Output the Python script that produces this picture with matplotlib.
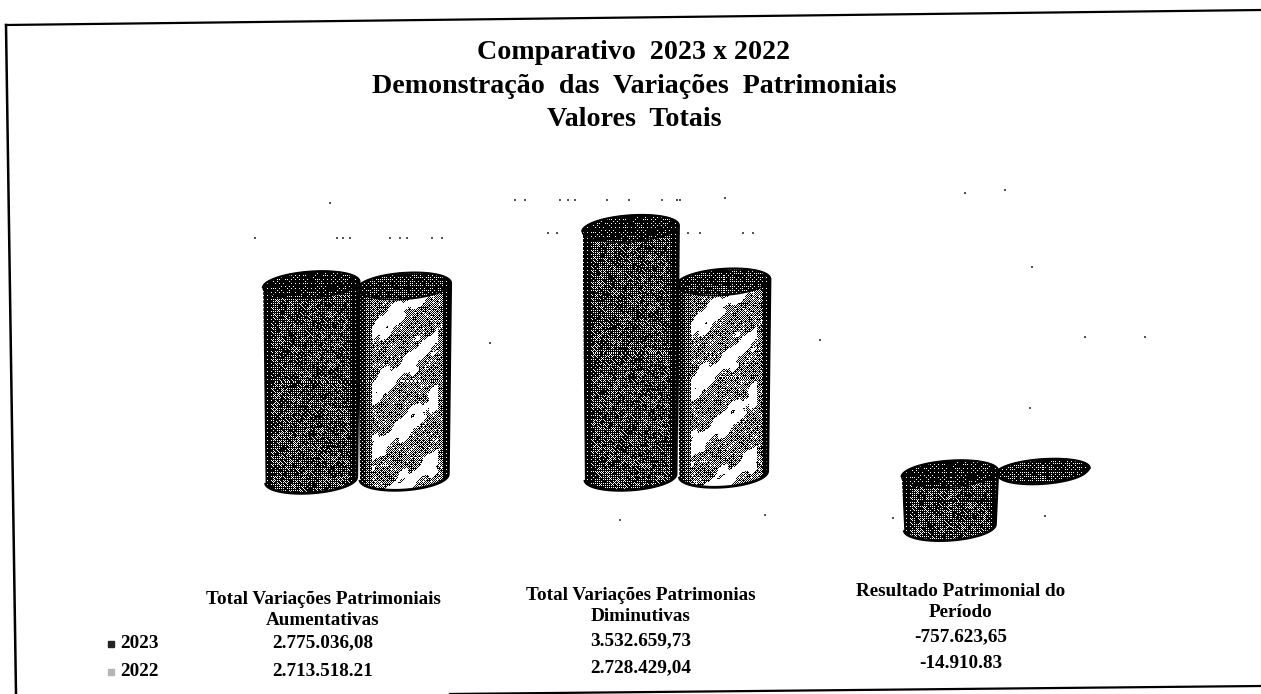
import numpy as np
import matplotlib
matplotlib.use('Agg')
import matplotlib.pyplot as plt
from matplotlib.patches import PathPatch
from matplotlib.path import Path

categories = ["Total Variações Patrimoniais\nAumentativas",
              "Total Variações Patrimonias\nDiminutivas",
              "Resultado Patrimonial do\nPeríodo"]
series_names = ["2023", "2022"]
valores_2023 = [2775036.08, 3532659.73, -757623.65]
valores_2022 = [2713518.21, 2728429.04, -14910.83]
rotulos_2023 = ["2.775.036,08", "3.532.659,73", "-757.623,65"]
rotulos_2022 = ["2.713.518.21", "2.728.429,04", "-14.910.83"]
titulo = "Comparativo  2023 x 2022\nDemonstração  das  Variações  Patrimoniais\nValores  Totais"

# restos de linhas de grade que sobraram no escaneamento
resto_x = [255, 337, 343, 350, 390, 400, 407, 432, 442, 330, 515, 525, 560, 568, 575,
           607, 629, 662, 677, 680, 725, 548, 557, 688, 700, 743, 753, 490, 620, 765,
           893, 1045, 965, 1005, 1032, 820, 1030, 1145, 1085]
resto_y = [238, 238, 238, 238, 238, 238, 238, 238, 238, 203, 200, 200, 200, 200, 200,
           200, 200, 200, 200, 200, 198, 233, 233, 233, 233, 233, 233, 343, 520, 515,
           518, 516, 193, 190, 267, 340, 408, 337, 337]

W, H = 1261, 694
SERIF = 'Liberation Serif'

fig = plt.figure(figsize=(W / 100, H / 100), dpi=100)

# fundo em pixels para moldura e textos
bg = fig.add_axes([0, 0, 1, 1])
bg.set_xlim(0, W)
bg.set_ylim(H, 0)
bg.axis('off')

# eixo dos cilindros: x = categoria, y = valor
px_por_real = 0.0703 / 1000
top_px, bot_px, zero_px = 190, 560, 476
left_px, right_px = 198, 1156
ax = fig.add_axes([left_px / W, 1 - bot_px / H, (right_px - left_px) / W, (bot_px - top_px) / H])
ax.axis('off')

px_x = (right_px - left_px) / 3.0  # pixels por categoria
bayer = np.array([[0, 8, 2, 10], [12, 4, 14, 6], [3, 11, 1, 9], [15, 7, 13, 5]]) / 16.0


def elipse(xc, yc, rx, ry, t):
    # ry em pixels, pequena inclinacao como na perspectiva do original
    x = xc + rx * np.cos(t)
    y = yc + (ry * np.sin(t) + 0.065 * rx * px_x * np.cos(t)) / px_por_real
    return x, y


def textura(x0, x1, y0, y1, claro, tampa=False):
    # pontilhado preto e branco parecido com o do escaneamento
    nx = max(int((x1 - x0) * px_x), 4)
    ny = max(int((y1 - y0) * px_por_real), 4)
    xi, yi = np.meshgrid(np.arange(nx), np.arange(ny))
    borda = (xi / (nx - 1.0) - 0.5) * 2
    mancha = (np.sin(xi * 0.31 + yi * 0.13) + np.sin(xi * 0.11 - yi * 0.27) + np.sin((xi + yi) * 0.47)) / 3
    grao = np.sin(xi * xi * 0.37 + yi * yi * 0.53 + xi * yi * 0.19)
    if claro:
        faixa = np.sin((yi + xi * 0.85) * 2 * np.pi / 59.0 + mancha)
        luz = 0.42 + 0.12 * mancha + 0.14 * grao
        luz = np.where((faixa > 0.5) & (np.abs(borda) < 0.72), 0.95, luz)
        luz = np.where(borda > 0.84, 0.04, luz)
        luz = np.where(borda < -0.86, 0.12, luz)
        luz = np.where(borda < -0.7, np.minimum(luz, 0.3), luz)
    else:
        luz = 0.2 + 0.12 * mancha + 0.16 * grao
        luz = np.where(np.abs(borda) > 0.82, 0.03, luz)
    if tampa:
        luz = np.minimum(luz, 0.12 + 0.12 * grao) if claro else np.minimum(luz, 0.06 + 0.08 * grao)
    limiar = bayer[yi % 4, xi % 4]
    return (luz > limiar).astype(float)


def cilindro(i, valor, largura_px, lado_px, sobe_px, claro):
    xc = i + lado_px / px_x
    rx = largura_px / 2.0 / px_x
    rx_base = rx * 0.95
    ry = 13.0 if abs(valor) > 1e5 else 11.5
    base = sobe_px / px_por_real
    topo = base + valor

    t_cima = np.linspace(np.pi, 0, 60)
    t_baixo = np.linspace(0, -np.pi, 60)
    if valor >= 0:
        xa, ya = elipse(xc, topo, rx, ry, t_cima)
        xb, yb = elipse(xc, base, rx_base, ry, t_baixo)
    else:
        xa, ya = elipse(xc, base, rx, ry, t_cima)
        xb, yb = elipse(xc, topo, rx_base, ry, t_baixo)
    corpo = Path(np.column_stack([np.r_[xa, xb], np.r_[ya, yb]]))

    y0 = min(ya.min(), yb.min())
    y1 = max(ya.max(), yb.max())
    im = ax.imshow(textura(xc - rx, xc + rx, y0, y1, claro), extent=(xc - rx, xc + rx, y0, y1),
                   origin='upper', aspect='auto', cmap='gray', vmin=0, vmax=1,
                   interpolation='nearest', zorder=2 + i)
    im.set_clip_path(PathPatch(corpo, transform=ax.transData))
    ax.add_patch(PathPatch(corpo, fc='none', ec='black', lw=2.0, zorder=2.05 + i))

    # tampa superior mais escura
    t = np.linspace(0, 2 * np.pi, 80)
    yc = topo if valor >= 0 else base
    xe, ye = elipse(xc, yc, rx, ry, t)
    tampa = Path(np.column_stack([xe, ye]))
    im2 = ax.imshow(textura(xc - rx, xc + rx, ye.min(), ye.max(), claro, True),
                    extent=(xc - rx, xc + rx, ye.min(), ye.max()), origin='upper', aspect='auto',
                    cmap='gray', vmin=0, vmax=1, interpolation='nearest', zorder=2.1 + i)
    im2.set_clip_path(PathPatch(tampa, transform=ax.transData))
    ax.add_patch(PathPatch(tampa, fc='none', ec='black', lw=1.2, zorder=2.2 + i))


for i in range(3):
    cilindro(i, valores_2022[i], 93, 46.5, -1 + 3 * i, True)
    cilindro(i, valores_2023[i], 96, -46.5, -4 + 3 * i, False)

ax.set_xlim(-0.5, 2.5)
ax.set_ylim(-(bot_px - zero_px) / px_por_real, (zero_px - top_px) / px_por_real)

bg.scatter(resto_x, resto_y, s=1.5, color='#555555', marker='s', linewidths=0)

# moldura escaneada
bg.plot([6, 1261], [25, 10], color='black', lw=1.6)
bg.plot([6, 16], [25, 694], color='black', lw=1.8)
bg.plot([450, 1261], [694, 686], color='black', lw=1.6)

bg.text(634, 86, titulo, ha='center', va='center', family=SERIF, weight='bold', fontsize=20.2,
        linespacing=1.45)

# tabela de dados
cat_x = [323, 641, 961]
cat_y = [610, 606, 602]
val1_y = [643, 641, 637]
val2_y = [671, 668, 664]
for i in range(3):
    bg.text(cat_x[i], cat_y[i], categories[i], ha='center', va='center', family=SERIF,
            weight='bold', fontsize=13.8, linespacing=1.35)
    bg.text(cat_x[i], val1_y[i], rotulos_2023[i], ha='center', va='center', family=SERIF,
            weight='bold', fontsize=13.8)
    bg.text(cat_x[i], val2_y[i], rotulos_2022[i], ha='center', va='center', family=SERIF,
            weight='bold', fontsize=13.8)

bg.text(120, 644, series_names[0], ha='left', va='center', family=SERIF, weight='bold', fontsize=13.8)
bg.text(120, 672, series_names[1], ha='left', va='center', family=SERIF, weight='bold', fontsize=13.8)
bg.plot([111], [644], marker='s', ms=5, color='#222222')
bg.plot([111], [672], marker='s', ms=5, color='#b5b5b5')

fig.savefig('out.png', dpi=100)
plt.close(fig)
